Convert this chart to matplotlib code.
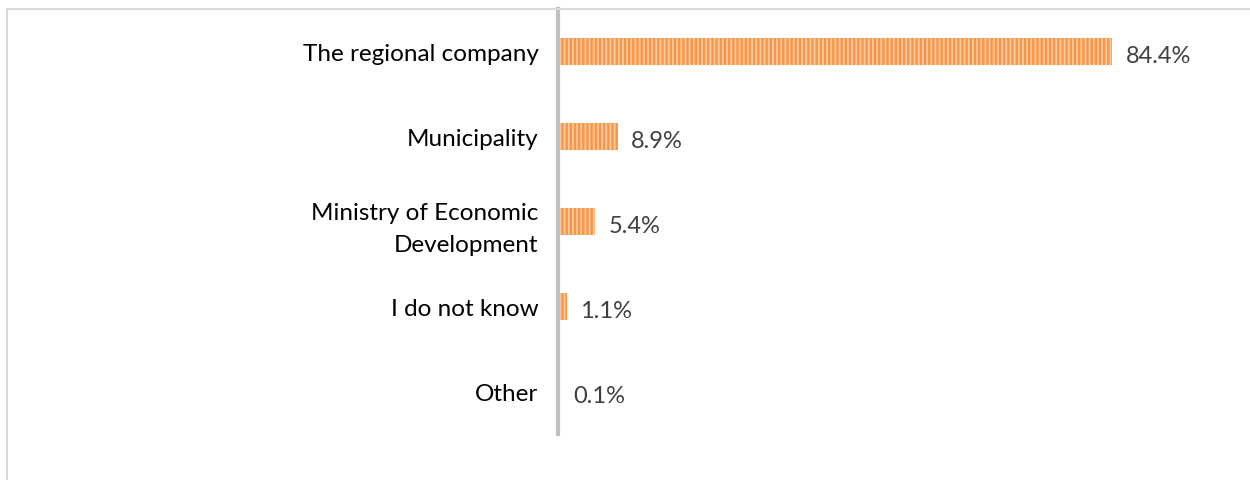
import matplotlib
matplotlib.use('Agg')
import matplotlib.pyplot as plt
from matplotlib.patches import Rectangle

categories = ['The regional company', 'Municipality', 'Ministry of Economic\nDevelopment',
              'I do not know', 'Other']
values = [84.4, 8.9, 5.4, 1.1, 0.1]
labels = ['84.4%', '8.9%', '5.4%', '1.1%', '0.1%']

plt.rcParams['font.family'] = ['Lato', 'DejaVu Sans']
plt.rcParams['hatch.linewidth'] = 1.3

W, H = 1250, 481
fig = plt.figure(figsize=(W / 100, H / 100), dpi=100)
fig.patches.append(Rectangle((7 / W, -0.1), 1.2, (H - 10) / H + 0.1, transform=fig.transFigure,
                             fill=False, edgecolor='#d9d9d9', linewidth=1.5))

ax = fig.add_axes([558 / W, 1 - 435 / H, 655 / W, 425 / H])
y = list(range(len(categories)))
ax.barh(y, values, height=0.31, color='#f79646', edgecolor='#fcc9a0', linewidth=0,
        hatch='||||', left=0.2)
ax.set_ylim(len(categories) - 0.5, -0.5)
ax.set_xlim(0, 100)

for yi, v, t in zip(y, values, labels):
    ax.text(v + 2.3, yi + 0.05, t, va='center', ha='left', fontsize=17, color='#404040')

ax.set_yticks(y)
ax.set_yticklabels(categories, fontsize=17.5, color='black', ha='right', linespacing=1.6)
ax.tick_params(axis='y', length=0, pad=14)
ax.set_xticks([])
for s in ['top', 'right', 'bottom']:
    ax.spines[s].set_visible(False)
ax.spines['left'].set_color('#bfbfbf')
ax.spines['left'].set_linewidth(3)
ax.set_facecolor('none')

fig.savefig('out.png', dpi=100, facecolor='white')
